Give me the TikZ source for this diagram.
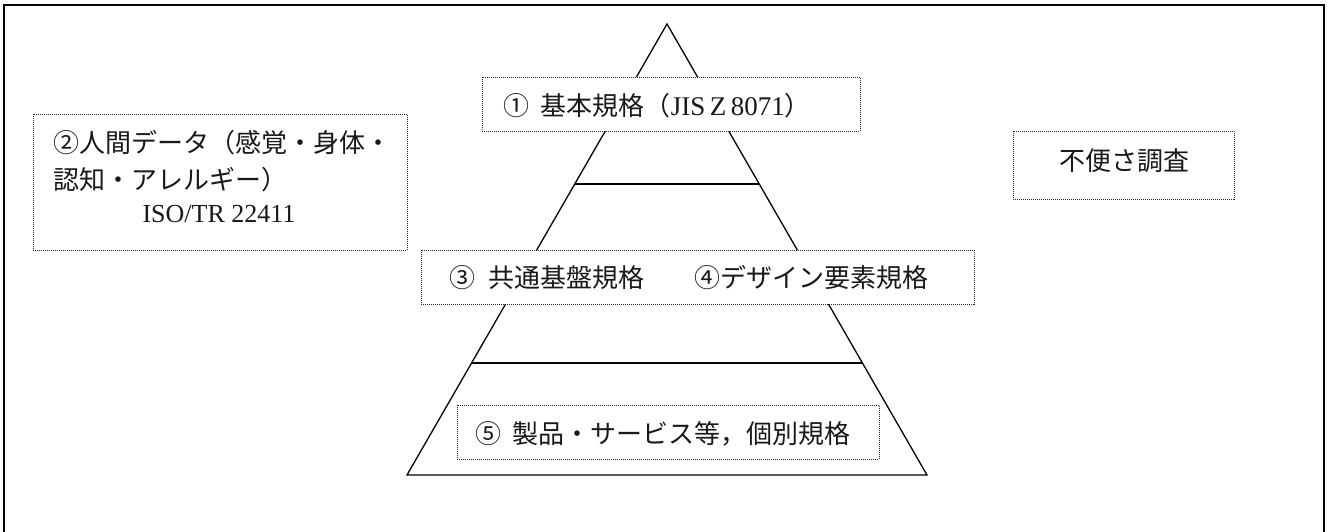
\documentclass[tikz,border=0pt]{standalone}
\usepackage{fontspec}
\newfontfamily\jpfont{Noto Sans CJK JP}
\newfontfamily\romanfont{Liberation Serif}
\usetikzlibrary{calc}
\tikzset{
  dotbox/.style={draw=black!85, line width=0.9pt, dash pattern=on 1pt off 1pt, fill=white, inner sep=0pt},
  jp/.style={font=\jpfont\fontsize{26}{32}\selectfont, inner sep=0pt, text=black!90},
  lat/.style={font=\romanfont\fontsize{26}{32}\selectfont, inner sep=0pt, text=black!90},
  triedge/.style={line width=1.3pt, line join=miter},
  tierline/.style={line width=2.2pt},
  frameline/.style={line width=2.2pt},
}
\begin{document}
\begin{tikzpicture}[x=1pt,y=-1pt]
\useasboundingbox (0,0) rectangle (1328,532);
% outer frame (bottom edge lies outside the picture)
\coordinate (fbl) at (4,540);
\coordinate (ftl) at (4,5);
\coordinate (ftr) at (1324,5);
\coordinate (fbr) at (1324,540);
\draw[frameline] (fbl) -- (ftl) -- (ftr) -- (fbr);

% pyramid
\coordinate (apex) at (667,24);
\coordinate (bl) at (407,475);
\coordinate (br) at (927,475);
\draw[triedge] (apex) -- (bl) -- (br) -- cycle;
\draw[tierline] ($(apex)!0.3548!(bl)$) -- ($(apex)!0.3548!(br)$);
\draw[tierline] ($(apex)!0.7517!(bl)$) -- ($(apex)!0.7517!(br)$);

% box 1
\node[dotbox, minimum width=378pt, minimum height=54pt] (b1) at (671,104) {};
\node[jp, anchor=west] (t1) at (503,106) {①\hspace{0.45em}基本規格（{\romanfont\fontsize{27}{32}\selectfont JIS\,Z\,8071}）};

% box 2
\node[dotbox, minimum width=374pt, minimum height=136pt] (b2) at (220,182) {};
\node[jp, anchor=west] (t2a) at (53,143) {②人間データ（感覚・身体・};
\node[jp, anchor=west] (t2b) at (53,180) {認知・アレルギー）};
\node[lat] (t2c) at (219,214) {ISO/TR 22411};

% box 3/4
\node[dotbox, minimum width=553pt, minimum height=54pt] (b34) at (697.5,277) {};
\node[jp, anchor=west] (t3) at (449,278) {③\hspace{0.5em}共通基盤規格};
\node[jp, anchor=west] (t4) at (694,278) {④デザイン要素規格};

% box 5
\node[dotbox, minimum width=422pt, minimum height=54pt] (b5) at (668,432) {};
\node[jp, anchor=west] (t5) at (475,434) {⑤\hspace{0.45em}製品・サービス等，個別規格};

% inconvenience survey box
\node[dotbox, minimum width=221pt, minimum height=68pt] (b6) at (1123.5,165) {};
\node[jp] (t6) at (1124,161) {不便さ調査};
\end{tikzpicture}
\end{document}
